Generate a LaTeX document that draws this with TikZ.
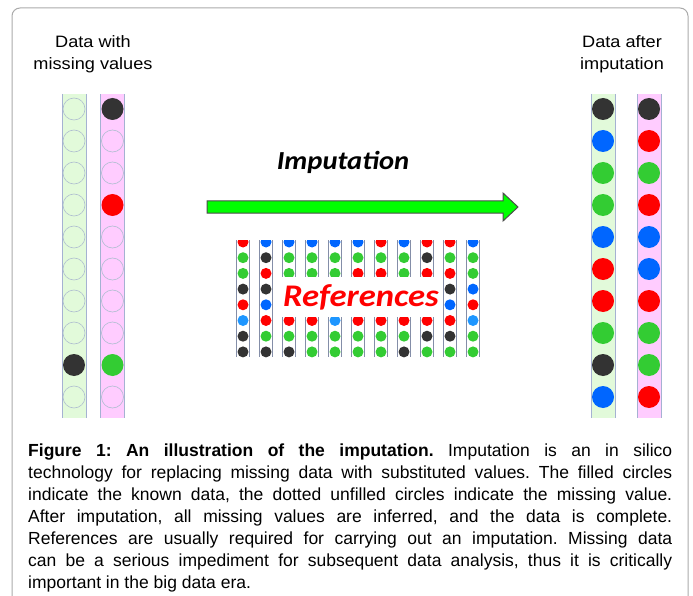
\documentclass[tikz,border=0pt]{standalone}
\usepackage{fontspec}
\setmainfont{Liberation Sans}
\newfontfamily\labelfont[FakeStretch=1.1]{Liberation Sans}
\newfontfamily\calibrifont[FakeStretch=1.1]{Carlito}
\usepackage{tikz}

\definecolor{framegray}{RGB}{170,170,170}
\definecolor{colgreen}{RGB}{226,250,218}
\definecolor{colpink}{RGB}{255,204,255}
\definecolor{tubeline}{RGB}{165,178,210}
\definecolor{emptyline}{RGB}{175,190,208}
\definecolor{cK}{RGB}{51,51,51}
\definecolor{cR}{RGB}{255,0,0}
\definecolor{cG}{RGB}{51,204,51}
\definecolor{cB}{RGB}{0,102,255}
\definecolor{cS}{RGB}{30,150,255}
\definecolor{arrowgreen}{RGB}{0,255,0}

\begin{document}
\begin{tikzpicture}
    [ x = 1pt, y = -1pt
    , frame/.style =
      { draw=framegray, line width=1pt, rounded corners=8pt }
    , heading/.style =
      { align=center, inner sep=0pt, font=\labelfont\fontsize{16.5}{22}\selectfont }
    , greencol/.style =
      { fill=colgreen }
    , pinkcol/.style =
      { fill=colpink }
    , side/.style =
      { draw=tubeline, line width=.8pt }
    , tube/.style =
      { draw=tubeline!80!black, line width=1pt }
    , dK/.style = { fill=cK }
    , dR/.style = { fill=cR }
    , dG/.style = { fill=cG }
    , dB/.style = { fill=cB }
    , dS/.style = { fill=cS }
    , dN/.style = { }
    , dE/.style =
      { draw=emptyline, line width=.6pt }
    , bigarrow/.style =
      { fill=arrowgreen, draw=black!70, line width=1pt, line join=miter }
    , steptext/.style =
      { inner sep=0pt, font=\calibrifont\bfseries\itshape\fontsize{26}{30}\selectfont }
    , reftext/.style =
      { inner sep=0pt, text=cR, font=\calibrifont\bfseries\itshape\fontsize{31.5}{34}\selectfont }
    , caption/.style =
      { anchor=north west, inner sep=0pt, text width=644pt, align=justify
      , font=\fontsize{17.5}{22}\selectfont }
    ]
    \useasboundingbox (0,0) rectangle (693,596);
    \draw [frame] (12,8) rectangle (688,620);

    \node [heading] (before) at (93,54) {Data with\\missing values};
    \node [heading] (after) at (622,54) {Data after\\imputation};

    % data columns
    \foreach \x/\sty/\list in
      {74/greencol/{E,E,E,E,E,E,E,E,K,E},
       112.5/pinkcol/{K,E,E,R,E,E,E,E,G,E},
       603/greencol/{K,B,G,G,B,R,R,G,K,B},
       649/pinkcol/{K,R,G,R,B,B,R,G,G,R}}
    {
      \fill [\sty] (\x-12,94) rectangle (\x+12,418);
      \draw [side] (\x-12,94) -- (\x-12,418) (\x+12,94) -- (\x+12,418);
      \foreach \c [count=\j from 0] in \list
        \path [d\c] (\x,109+32*\j) circle (11pt);
    }

    \node [steptext] (imputation) at (343,162) {Imputation};
    \draw [bigarrow] (207,201) -- (503,201) -- (503,193) -- (518,207)
      -- (503,221) -- (503,213) -- (207,213) -- cycle;

    % reference panel
    \begin{scope}
      \clip (230,240) rectangle (490,357);
      \foreach \x/\list in
        {243/{R,G,G,K,R,S,K,K},
         266/{B,K,R,K,B,R,G,K},
         289/{B,G,G,N,N,R,G,K},
         312/{B,G,G,N,N,R,G,G},
         335/{B,G,G,N,N,S,G,G},
         358/{B,G,R,N,N,R,G,G},
         381/{R,G,R,N,N,R,G,G},
         404/{B,G,G,N,N,R,G,K},
         427/{R,K,R,N,N,R,K,G},
         450/{R,G,R,K,B,R,K,G},
         473/{B,G,G,B,R,S,G,G}}
      {
        \draw [tube] (\x-6.5,240) -- (\x-6.5,357) (\x+6.5,240) -- (\x+6.5,357);
        \foreach \c [count=\j from 0] in \list
          \path [d\c] (\x,242+15.7*\j) circle (5.5pt);
      }
    \end{scope}
    \fill [white] (280,277) rectangle (437,317);
    \node [reftext] (references) at (361,297) {References};

    \node [caption] (legend) at (28,444)
      {\frenchspacing\tolerance=9999\hyphenpenalty=10000
       \textbf{Figure 1: An illustration of the imputation.} Imputation is an in silico\linebreak
       technology for replacing missing data with substituted values. The filled circles\linebreak
       indicate the known data, the dotted unfilled circles indicate the missing value.\linebreak
       After imputation, all missing values are inferred, and the data is complete.\linebreak
       References are usually required for carrying out an imputation. Missing data\linebreak
       can be a serious impediment for subsequent data analysis, thus it is critically\linebreak
       important in the big data era.};
\end{tikzpicture}
\end{document}
